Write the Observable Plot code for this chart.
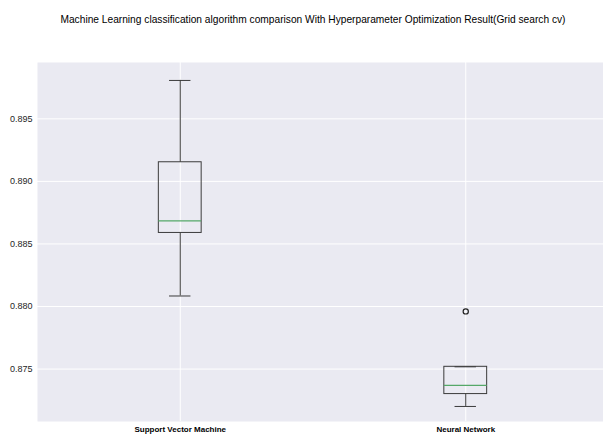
<!DOCTYPE html>
<html>
<head>
<meta charset="utf-8">
<script src="https://cdn.jsdelivr.net/npm/d3@7"></script>
<script src="https://cdn.jsdelivr.net/npm/@observablehq/plot@0.6"></script>
<style>
  html, body { margin: 0; padding: 0; background: #fff; overflow: hidden; }
  #title {
    width: 603px; height: 40px; line-height: 40px;
    text-align: center; font-family: "Liberation Sans", Arial, sans-serif;
    font-size: 10.2px; color: #000; padding-left: 23px; box-sizing: border-box;
    white-space: nowrap;
  }
  #chart svg { display: block; }
</style>
</head>
<body>
<div id="title">Machine Learning classification algorithm comparison With Hyperparameter Optimization Result(Grid search cv)</div>
<div id="chart"></div>
<script>
// Cross-validation accuracy summary per model (box-plot statistics)
const categories   = ["Support Vector Machine", "Neural Network"];
const positions    = [1, 2];
const whiskerLow   = [0.88084, 0.87201];
const q1           = [0.88588, 0.87300];
const median       = [0.88684, 0.87369];
const q3           = [0.89153, 0.87518];
const whiskerHigh  = [0.89807, 0.87518];
const outlierModel = ["Neural Network"];
const outlierValue = [0.87961];
const yTicks       = [0.875, 0.880, 0.885, 0.890, 0.895];

const boxWidth = 0.15;
const capWidth = boxWidth / 2;

const rows = categories.map((name, i) => ({
  name, pos: positions[i],
  lo: whiskerLow[i], q1: q1[i], med: median[i], q3: q3[i], hi: whiskerHigh[i]
}));
const outliers = outlierModel.map((m, i) => ({
  pos: positions[categories.indexOf(m)], value: outlierValue[i]
}));

const lineColor = "#3b3b3b";

const chart = Plot.plot({
  width: 603,
  height: 397,
  marginTop: 22,
  marginBottom: 16,
  marginLeft: 37,
  marginRight: 0,
  style: { fontFamily: "Liberation Sans, Arial, sans-serif", fontSize: "9px", color: "#222", background: "transparent" },
  x: { type: "linear", domain: [0.5, 2.4825], axis: null },
  y: { domain: [0.870808, 0.899504], axis: null },
  marks: [
    Plot.frame({ fill: "#eaeaf2", stroke: null }),
    Plot.gridY(yTicks, { stroke: "#ffffff", strokeOpacity: 1, strokeWidth: 1 }),
    Plot.gridX(positions, { stroke: "#ffffff", strokeOpacity: 1, strokeWidth: 1 }),
    Plot.axisY(yTicks, { tickSize: 0, tickPadding: 5, tickFormat: d3.format(".3f"), label: null, fill: "#262626" }),
    Plot.axisX(positions, {
      tickSize: 0, tickPadding: 5, label: null, fill: "#000",
      fontSize: 8, fontWeight: "bold", tickFormat: (d) => categories[positions.indexOf(d)]
    }),
    // whiskers
    Plot.ruleX(rows, { x: "pos", y1: "lo", y2: "q1", stroke: lineColor, strokeWidth: 1 }),
    Plot.ruleX(rows, { x: "pos", y1: "q3", y2: "hi", stroke: lineColor, strokeWidth: 1 }),
    // caps
    Plot.ruleY(rows, { y: "lo", x1: (d) => d.pos - capWidth / 2, x2: (d) => d.pos + capWidth / 2, stroke: lineColor, strokeWidth: 1 }),
    Plot.ruleY(rows, { y: "hi", x1: (d) => d.pos - capWidth / 2, x2: (d) => d.pos + capWidth / 2, stroke: lineColor, strokeWidth: 1 }),
    // boxes
    Plot.rect(rows, {
      x1: (d) => d.pos - boxWidth / 2, x2: (d) => d.pos + boxWidth / 2,
      y1: "q1", y2: "q3", fill: "none", stroke: lineColor, strokeWidth: 1
    }),
    // medians
    Plot.ruleY(rows, {
      y: "med", x1: (d) => d.pos - boxWidth / 2, x2: (d) => d.pos + boxWidth / 2,
      stroke: "#55a868", strokeWidth: 1.2
    }),
    // fliers
    Plot.dot(outliers, { x: "pos", y: "value", r: 2.6, stroke: "#222", strokeWidth: 1.2, fill: "none" })
  ]
});

document.getElementById("chart").appendChild(chart);
</script>
</body>
</html>
